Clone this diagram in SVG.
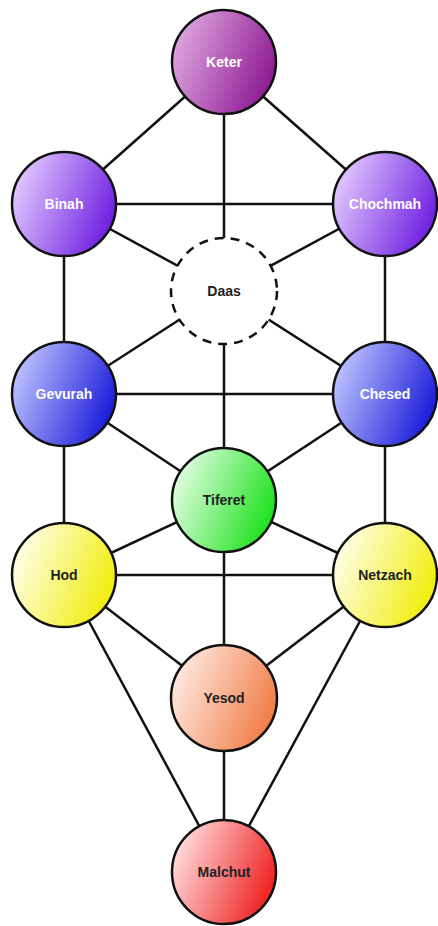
<svg xmlns="http://www.w3.org/2000/svg" width="438" height="926" viewBox="0 0 438 926">
<style>
.c{stroke:#111;stroke-width:2.5}
.l line{stroke:#111;stroke-width:2.5}
.t{font-family:"Liberation Sans",Arial,sans-serif;font-weight:bold;font-size:14px;text-anchor:middle;dominant-baseline:central}
.w{fill:#fff}
.k{fill:#222}
</style>
<defs>
<linearGradient id="gKeter" x1="0" y1="0.3" x2="1" y2="0.7"><stop offset="0" stop-color="#e0a8e0"/><stop offset="1" stop-color="#8a1490"/></linearGradient>
<linearGradient id="gPurple" x1="0" y1="0.3" x2="1" y2="0.7"><stop offset="0" stop-color="#e4ccff"/><stop offset="1" stop-color="#6a18e0"/></linearGradient>
<linearGradient id="gBlue" x1="0" y1="0.3" x2="1" y2="0.7"><stop offset="0" stop-color="#c0c6ff"/><stop offset="1" stop-color="#1414d8"/></linearGradient>
<linearGradient id="gGreen" x1="0" y1="0.3" x2="1" y2="0.7"><stop offset="0" stop-color="#e6ffe6"/><stop offset="1" stop-color="#14e014"/></linearGradient>
<linearGradient id="gYellow" x1="0" y1="0.3" x2="1" y2="0.7"><stop offset="0" stop-color="#ffffee"/><stop offset="1" stop-color="#f0ec00"/></linearGradient>
<linearGradient id="gOrange" x1="0" y1="0.3" x2="1" y2="0.7"><stop offset="0" stop-color="#ffece4"/><stop offset="1" stop-color="#f07840"/></linearGradient>
<linearGradient id="gRed" x1="0" y1="0.3" x2="1" y2="0.7"><stop offset="0" stop-color="#ffe0e0"/><stop offset="1" stop-color="#f01818"/></linearGradient>
</defs>
<rect width="438" height="926" fill="#fff"/>
<g id="connectors" class="l">
<line x1="224" y1="62" x2="64" y2="204"/>
<line x1="224" y1="62" x2="385" y2="204"/>
<line x1="224" y1="62" x2="224" y2="291"/>
<line x1="64" y1="204" x2="385" y2="204"/>
<line x1="64" y1="204" x2="224" y2="291"/>
<line x1="385" y1="204" x2="224" y2="291"/>
<line x1="64" y1="204" x2="64" y2="394"/>
<line x1="385" y1="204" x2="385" y2="394"/>
<line x1="224" y1="291" x2="64" y2="394"/>
<line x1="224" y1="291" x2="385" y2="394"/>
<line x1="224" y1="291" x2="224" y2="500"/>
<line x1="64" y1="394" x2="385" y2="394"/>
<line x1="64" y1="394" x2="224" y2="500"/>
<line x1="385" y1="394" x2="224" y2="500"/>
<line x1="64" y1="394" x2="64" y2="575"/>
<line x1="385" y1="394" x2="385" y2="575"/>
<line x1="224" y1="500" x2="64" y2="575"/>
<line x1="224" y1="500" x2="385" y2="575"/>
<line x1="64" y1="575" x2="385" y2="575"/>
<line x1="224" y1="500" x2="224" y2="698"/>
<line x1="64" y1="575" x2="224" y2="698"/>
<line x1="385" y1="575" x2="224" y2="698"/>
<line x1="64" y1="575" x2="224" y2="872"/>
<line x1="385" y1="575" x2="224" y2="872"/>
<line x1="224" y1="698" x2="224" y2="872"/>
</g>
<g id="keter"><circle class="c" cx="224" cy="62" r="52" fill="url(#gKeter)"/><text class="t w" x="224" y="62">Keter</text></g>
<g id="binah"><circle class="c" cx="64" cy="204" r="52" fill="url(#gPurple)"/><text class="t w" x="64" y="204">Binah</text></g>
<g id="chochmah"><circle class="c" cx="385" cy="204" r="52" fill="url(#gPurple)"/><text class="t w" x="385" y="204">Chochmah</text></g>
<g id="daas"><circle cx="224" cy="291" r="53" fill="#fff" stroke="#111" stroke-width="2.5" stroke-dasharray="9,7"/><text class="t k" x="224" y="291">Daas</text></g>
<g id="gevurah"><circle class="c" cx="64" cy="394" r="52" fill="url(#gBlue)"/><text class="t w" x="64" y="394">Gevurah</text></g>
<g id="chesed"><circle class="c" cx="385" cy="394" r="52" fill="url(#gBlue)"/><text class="t w" x="385" y="394">Chesed</text></g>
<g id="tiferet"><circle class="c" cx="224" cy="500" r="52" fill="url(#gGreen)"/><text class="t k" x="224" y="500">Tiferet</text></g>
<g id="hod"><circle class="c" cx="64" cy="575" r="52" fill="url(#gYellow)"/><text class="t k" x="64" y="575">Hod</text></g>
<g id="netzach"><circle class="c" cx="385" cy="575" r="52" fill="url(#gYellow)"/><text class="t k" x="385" y="575">Netzach</text></g>
<g id="yesod"><circle class="c" cx="224" cy="698" r="53" fill="url(#gOrange)"/><text class="t k" x="224" y="698">Yesod</text></g>
<g id="malchut"><circle class="c" cx="224" cy="872" r="52" fill="url(#gRed)"/><text class="t k" x="224" y="872">Malchut</text></g>
</svg>
